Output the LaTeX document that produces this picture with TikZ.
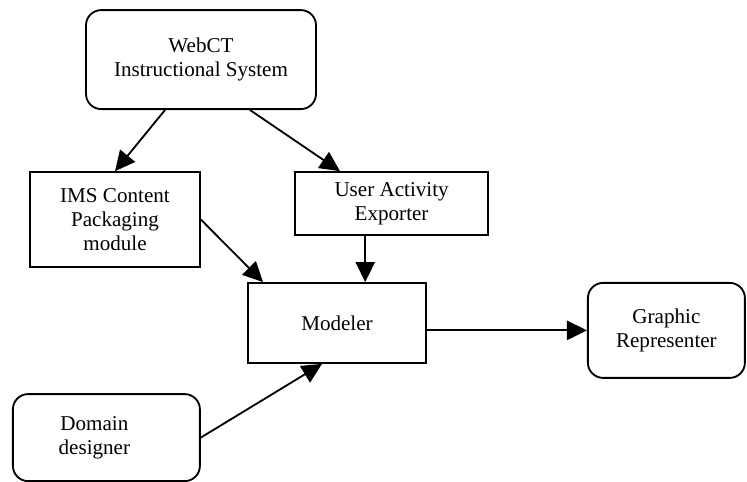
\documentclass[tikz,border=0pt]{standalone}
\usepackage{fontspec}
\setmainfont{Liberation Serif}
\usetikzlibrary{arrows.meta}
\begin{document}
\begin{tikzpicture}[
        font=\fontsize{15}{16.8}\selectfont,
        box/.style={draw, line width=1.3pt, align=center, inner sep=0pt},
        rbox/.style={box, rounded corners=0.38cm},
        arr/.style={line width=1.3pt, -{Triangle[length=0.5cm, width=0.48cm]}}
    ]
        \useasboundingbox (0,0) rectangle (18.675,-12.05);
        % ── boxes ──────────────────────────
        \node[rbox, minimum width=5.75cm, minimum height=2.475cm] (webct) at (5.025,-1.49) {WebCT\\Instructional System};
        \node[box, minimum width=4.25cm, minimum height=2.375cm] (ims) at (2.875,-5.49) {IMS Content\\Packaging\\module};
        \node[box, minimum width=4.825cm, minimum height=1.575cm] (exporter) at (9.79,-5.09) {User Activity\\Exporter};
        \node[box, minimum width=4.45cm, minimum height=2.0cm] (modeler) at (8.425,-8.075) {Modeler};
        \node[rbox, minimum width=3.925cm, minimum height=2.375cm] (graphic) at (16.66,-8.26) {Graphic\\Representer};
        \node[rbox, minimum width=4.675cm, minimum height=2.175cm] (domain) at (2.66,-10.94) {\hspace*{-0.6cm}Domain\\\hspace*{-0.6cm}designer};
        % ── connectors ──────────────────────────
        \draw[arr] ([xshift=-0.9cm]webct.south) -- (ims.north);
        \draw[arr] ([xshift=1.225cm]webct.south) -- ([xshift=-1.29cm]exporter.north);
        \draw[arr] (ims.east) -- ([xshift=-1.85cm]modeler.north);
        \draw[arr] ([xshift=-0.66cm]exporter.south) coordinate (ex) -- (ex |- modeler.north);
        \draw[arr] (modeler.east |- graphic.west) -- (graphic.west);
        \draw[arr] (domain.east) -- ([xshift=-0.375cm]modeler.south);
    \end{tikzpicture}
\end{document}
